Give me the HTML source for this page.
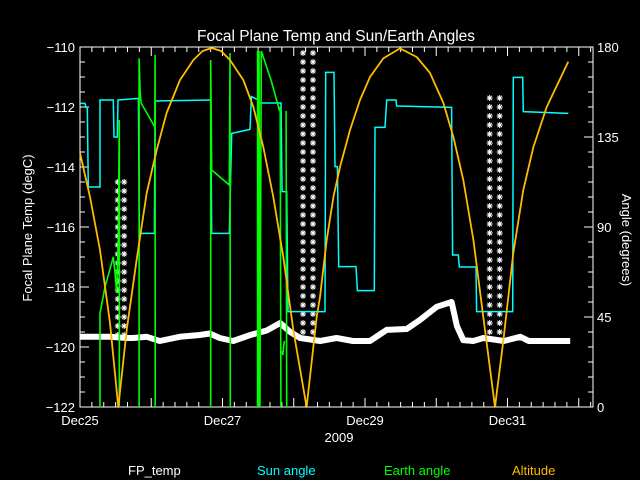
<!DOCTYPE html>
<html><head><meta charset="utf-8"><style>
body{margin:0;background:#000;width:640px;height:480px;overflow:hidden}
svg{display:block}
text{font-family:"Liberation Sans",sans-serif;fill:#fff}
</style></head><body>
<svg id="chart" width="640" height="480">
<rect width="640" height="480" fill="#000"/>
<text x="336" y="41" font-size="15.5" text-anchor="middle">Focal Plane Temp and Sun/Earth Angles</text>
<g id="grid-axes"></g>
<g id="series"></g>
<text transform="translate(32,228) rotate(-90)" font-size="13" text-anchor="middle">Focal Plane Temp (degC)</text>
<text transform="translate(622,240) rotate(90)" font-size="13" text-anchor="middle">Angle (degrees)</text>
<text x="339" y="442" font-size="13" text-anchor="middle">2009</text>
<text x="128" y="475" font-size="13" fill="#fff">FP_temp</text>
<text x="257" y="475" font-size="13" style="fill:#00ffff">Sun angle</text>
<text x="384" y="475" font-size="13" style="fill:#00ff00">Earth angle</text>
<text x="512" y="475" font-size="13" style="fill:#ffbb00">Altitude</text>
</svg>
<script>
const xTickLabels=["Dec25","Dec27","Dec29","Dec31"];
const xTickDays=[0,2,4,6];
const leftTicks=[-110,-112,-114,-116,-118,-120,-122];
const rightTicks=[180,135,90,45,0];
const altT=[0,0.14,0.281,0.421,0.538,0.655,0.795,0.936,1.076,1.216,1.404,1.591,1.72,1.848,1.98,2.105,2.292,2.433,2.573,2.713,2.854,2.994,3.181,3.322,3.368,3.462,3.556,3.649,3.79,3.93,4.07,4.257,4.491,4.725,4.912,5.1,5.24,5.38,5.521,5.661,5.825,5.942,6.082,6.222,6.363,6.55,6.854];
const altV=[127,105,78.5,42,0,38.5,73.5,107,128.5,147,163.5,173.5,178,179.5,178,173.5,163.5,150,130,105,75,38.5,0,45,55,83.5,105,120,138.5,153.5,165,174.3,179.3,175,167,152,135,113.5,83.5,45,0,33.5,77,108.5,130,150,172.7];
const sunT=[0,0.07,0.084,0.103,0.117,0.281,0.281,0.468,0.477,0.524,0.533,0.819,0.833,1.044,1.054,1.835,1.848,2.096,2.129,2.386,2.405,2.503,2.517,2.821,2.836,2.901,2.919,3.439,3.448,3.565,3.579,3.612,3.631,3.874,3.893,4.131,4.14,4.281,4.304,4.435,4.444,5.216,5.23,5.31,5.324,5.558,5.567,6.073,6.082,6.213,6.222,6.854];
const sunV=[151.8,151.8,149.8,149.8,110,110,153.5,153.5,135,135,153.5,154.3,86.8,86.8,153,153.5,86.8,86.8,136.8,138.8,155.2,153.5,152,152,107.7,107.7,47.7,47.7,167.3,167.3,120.2,120.2,70.2,70.2,58.2,58.2,139.8,139.8,153.5,153.5,150.5,149.8,76,76,70,70,47.7,47.7,164.8,164.8,147.7,146.8];
const earthT=[0.281,0.281,0.351,0.468,0.491,0.515,0.538,0.552,0.552,null,0.829,0.829,0.843,0.857,1.05,1.054,1.056,null,1.835,1.835,1.848,2.096,2.105,2.11,null,2.493,2.493,2.507,2.512,2.525,2.544,2.685,2.802,2.81,2.82,null,2.84,2.846,2.86,2.87,null,2.893,2.901];
const earthV=[0,46.8,60,75,67,57,85,143.5,0,null,0,174.3,158,152,140,176,0,null,0,173.5,118.5,111,177,0,null,0,178,0,178,0,178,163,148,150,0,null,28,26,31,33,null,148,0];
const fpT=[0,0.42,0.66,0.75,0.936,1.12,1.4,1.68,1.82,1.96,2.15,2.39,2.62,2.81,2.95,3.09,3.37,3.6,3.83,4.07,4.304,4.585,4.77,5.006,5.216,5.29,5.38,5.52,5.66,5.95,6.18,6.3,6.88];
const fpV=[-119.66,-119.66,-119.7,-119.7,-119.66,-119.8,-119.66,-119.6,-119.55,-119.7,-119.8,-119.6,-119.45,-119.2,-119.5,-119.7,-119.8,-119.7,-119.8,-119.8,-119.43,-119.4,-119.1,-118.66,-118.5,-119.3,-119.77,-119.8,-119.7,-119.8,-119.66,-119.8,-119.8];
const spikeT=[0.53,0.62,3.13,3.27,5.75,5.89];
const spikeTop=[-114.3,-114.3,-110,-110,-111.6,-111.6];
const spikeBase=[-119.6,-119.6,-119.5,-119.5,-119.5,-119.5];

const X0=80,X1=593,Y0=47,Y1=407,PXD=71.25;
const xs=t=>X0+t*PXD;
const yL=v=>Y0+(-110-v)*30;
const yR=v=>Y1-v*2;
const NS="http://www.w3.org/2000/svg";
const ax=document.getElementById('grid-axes'),sr=document.getElementById('series');
function mk(tag,attrs,parent){const e=document.createElementNS(NS,tag);for(const k in attrs)e.setAttribute(k,attrs[k]);parent.appendChild(e);return e;}
const frame=mk('rect',{x:X0,y:Y0,width:X1-X0,height:Y1-Y0,fill:'none',stroke:'#fff','stroke-width':1},ax);


for(let i=0;i*PXD/6<=X1-X0;i++){const x=X0+i*PXD/6;const L=(i%6===0)?9:5;
 const a=mk('line',{x1:x,x2:x,y1:Y1,y2:Y1-L,stroke:'#fff'},ax);
 const b=mk('line',{x1:x,x2:x,y1:Y0,y2:Y0+L,stroke:'#fff'},ax);}
xTickLabels.forEach((s,i)=>{const t=mk('text',{x:xs(xTickDays[i]),y:425,'font-size':13,'text-anchor':'middle'},ax);t.textContent=s;
 });
for(let v=-110;v>=-122;v-=0.5){const y=yL(v);const L=(Math.abs(v%2)<0.01)?9:5;
 const a=mk('line',{x1:X0,x2:X0+L,y1:y,y2:y,stroke:'#fff'},ax);}
leftTicks.forEach(v=>{const t=mk('text',{x:X0-5,y:yL(v)+5,'font-size':13,'text-anchor':'end'},ax);t.textContent='\u2212'+Math.abs(v);
 });
for(let v=0;v<=180;v+=7.5){const y=yR(v);const L=(v%45===0)?9:5;
 const a=mk('line',{x1:X1,x2:X1-L,y1:y,y2:y,stroke:'#fff'},ax);}
rightTicks.forEach(v=>{const t=mk('text',{x:X1+4,y:yR(v)+5,'font-size':13},ax);t.textContent=String(v);
 });
function paths(T,V,fy){let d='',pen=false;for(let i=0;i<T.length;i++){if(T[i]===null){pen=false;continue;}d+=(pen?'L':'M')+xs(T[i]).toFixed(1)+' '+fy(V[i]).toFixed(1)+' ';pen=true;}return d;}
const fp=mk('path',{d:paths(fpT,fpV,yL),fill:'none',stroke:'#fff','stroke-width':6,'stroke-linejoin':'round'},sr);


spikeT.forEach((t,i)=>{for(let v=spikeBase[i];v<=spikeTop[i]+0.01;v+=0.3){const x=xs(t),y=yL(v);
 const s=mk('path',{d:`M${x-3} ${y}h6M${x} ${y-3}v6M${x-2.2} ${y-2.2}l4.4 4.4M${x-2.2} ${y+2.2}l4.4 -4.4`,stroke:'#fff','stroke-width':1},sr);
 }});
const sun=mk('path',{d:paths(sunT,sunV,yR),fill:'none',stroke:'#00ffff','stroke-width':1.5},sr);


const earth=mk('path',{d:paths(earthT,earthV,yR),fill:'none',stroke:'#00ff00','stroke-width':1.6},sr);


const alt=mk('path',{d:paths(altT,altV,yR),fill:'none',stroke:'#ffbb00','stroke-width':1.8,'stroke-linejoin':'round'},sr);


</script>
</body></html>
